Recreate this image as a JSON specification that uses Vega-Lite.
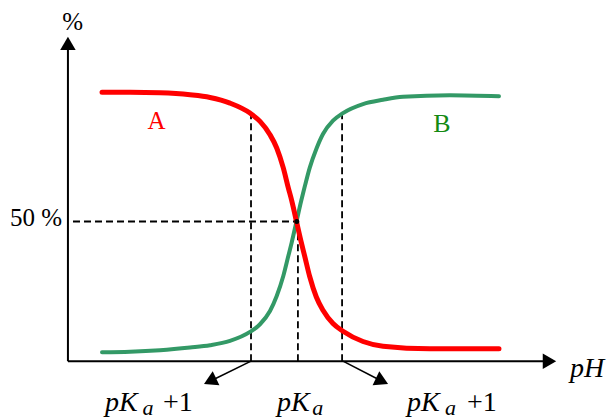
{
  "$schema": "https://vega.github.io/schema/vega-lite/v6.json",
  "width": 609,
  "height": 420,
  "padding": 0,
  "autosize": {"type": "fit", "contains": "padding"},
  "background": "white",
  "config": {"view": {"stroke": null}},
  "datasets": {
    "curves": [
      {"series": "A", "pH": 2.761, "pct": 96.25},
      {"series": "A", "pH": 3.37, "pct": 96.25},
      {"series": "A", "pH": 4.022, "pct": 96.07},
      {"series": "A", "pH": 4.674, "pct": 95.36},
      {"series": "A", "pH": 5.109, "pct": 94.39},
      {"series": "A", "pH": 5.543, "pct": 92.39},
      {"series": "A", "pH": 5.978, "pct": 88.82},
      {"series": "A", "pH": 6.196, "pct": 85.82},
      {"series": "A", "pH": 6.413, "pct": 81.07},
      {"series": "A", "pH": 6.559, "pct": 76.32},
      {"series": "A", "pH": 6.702, "pct": 69.18},
      {"series": "A", "pH": 6.811, "pct": 62.04},
      {"series": "A", "pH": 6.885, "pct": 57.5},
      {"series": "A", "pH": 6.989, "pct": 50.0},
      {"series": "A", "pH": 7.093, "pct": 42.5},
      {"series": "A", "pH": 7.167, "pct": 37.6},
      {"series": "A", "pH": 7.276, "pct": 30.3},
      {"series": "A", "pH": 7.42, "pct": 22.96},
      {"series": "A", "pH": 7.565, "pct": 18.21},
      {"series": "A", "pH": 7.783, "pct": 13.46},
      {"series": "A", "pH": 8.0, "pct": 10.71},
      {"series": "A", "pH": 8.435, "pct": 7.04},
      {"series": "A", "pH": 8.87, "pct": 5.36},
      {"series": "A", "pH": 9.891, "pct": 4.46},
      {"series": "A", "pH": 11.391, "pct": 4.46},
      {"series": "B", "pH": 2.761, "pct": 3.21},
      {"series": "B", "pH": 3.37, "pct": 3.39},
      {"series": "B", "pH": 4.022, "pct": 3.93},
      {"series": "B", "pH": 4.674, "pct": 4.89},
      {"series": "B", "pH": 5.109, "pct": 5.71},
      {"series": "B", "pH": 5.543, "pct": 7.25},
      {"series": "B", "pH": 5.978, "pct": 10.46},
      {"series": "B", "pH": 6.196, "pct": 13.21},
      {"series": "B", "pH": 6.413, "pct": 17.96},
      {"series": "B", "pH": 6.559, "pct": 23.32},
      {"series": "B", "pH": 6.702, "pct": 30.46},
      {"series": "B", "pH": 6.811, "pct": 37.61},
      {"series": "B", "pH": 6.885, "pct": 42.5},
      {"series": "B", "pH": 6.989, "pct": 50.0},
      {"series": "B", "pH": 7.093, "pct": 57.5},
      {"series": "B", "pH": 7.167, "pct": 62.4},
      {"series": "B", "pH": 7.276, "pct": 69.2},
      {"series": "B", "pH": 7.42, "pct": 75.96},
      {"series": "B", "pH": 7.565, "pct": 81.32},
      {"series": "B", "pH": 7.783, "pct": 86.07},
      {"series": "B", "pH": 8.0, "pct": 88.82},
      {"series": "B", "pH": 8.435, "pct": 92.04},
      {"series": "B", "pH": 8.87, "pct": 93.57},
      {"series": "B", "pH": 9.304, "pct": 94.64},
      {"series": "B", "pH": 10.326, "pct": 95.18},
      {"series": "B", "pH": 11.391, "pct": 94.82}
    ],
    "axes": [
      {"name": "y axis", "x1": 2.02, "y1": 0, "x2": 2.02, "y2": 112},
      {"name": "x axis", "x1": 2.02, "y1": 0, "x2": 12.35, "y2": 0}
    ],
    "pointers": [
      {"name": "left", "x1": 6.0, "y1": 0, "x2": 5.109, "y2": -7.18},
      {"name": "right", "x1": 8.0, "y1": 0, "x2": 8.848, "y2": -7.18}
    ],
    "guides": [
      {"name": "50%", "x1": 2.13, "y1": 50, "x2": 6.99, "y2": 50},
      {"name": "pKa-1", "x1": 6.0, "y1": 0, "x2": 6.0, "y2": 88.6},
      {"name": "pKa", "x1": 7.02, "y1": 0, "x2": 7.02, "y2": 50},
      {"name": "pKa+1", "x1": 7.98, "y1": 0, "x2": 7.98, "y2": 88.6}
    ],
    "heads": [
      {"name": "y axis", "pH": 2.02, "pct": 113.75, "dir": 0},
      {"name": "x axis", "pH": 12.489, "pct": 0, "dir": 90},
      {"name": "left", "pH": 5.109, "pct": -7.18, "dir": 244.4},
      {"name": "right", "pH": 8.848, "pct": -7.18, "dir": 115.6}
    ],
    "italicBig": [
      {"label": "pK", "pH": 2.826, "pct": -17.86},
      {"label": "pK", "pH": 6.565, "pct": -17.86},
      {"label": "pK", "pH": 9.391, "pct": -17.86},
      {"label": "pH", "pH": 12.935, "pct": -5.71}
    ],
    "subs": [
      {"label": "a", "pH": 3.64, "pct": -19.3},
      {"label": "a", "pH": 7.33, "pct": -19.3},
      {"label": "a", "pH": 10.22, "pct": -19.3}
    ],
    "plus": [
      {"label": "+1", "pH": 4.087, "pct": -17.86},
      {"label": "+1", "pH": 10.696, "pct": -17.86}
    ],
    "ylabels": [
      {"label": "%", "pH": 2.348, "pct": 118.57},
      {"label": "50 %", "pH": 1.891, "pct": 48.21}
    ],
    "names": [
      {"label": "A", "pH": 3.946, "pct": 83.21},
      {"label": "B", "pH": 10.152, "pct": 82.14}
    ],
    "cross": [
      {"pH": 6.995, "pct": 50.0}
    ]
  },
  "encoding": {
    "x": {"field": "pH", "type": "quantitative", "scale": {"domain": [0.543, 13.783], "nice": false, "zero": false}, "axis": null},
    "y": {"field": "pct", "type": "quantitative", "scale": {"domain": [-20.71, 129.29], "nice": false, "zero": false}, "axis": null}
  },
  "layer": [
    {
      "data": {"name": "guides"},
      "mark": {"type": "rule", "color": "black", "strokeWidth": 1.8, "strokeDash": [7, 4]},
      "encoding": {
        "x": {"field": "x1", "type": "quantitative"},
        "y": {"field": "y1", "type": "quantitative"},
        "x2": {"field": "x2"},
        "y2": {"field": "y2"}
      }
    },
    {
      "data": {"name": "axes"},
      "mark": {"type": "rule", "color": "black", "strokeWidth": 2},
      "encoding": {
        "x": {"field": "x1", "type": "quantitative"},
        "y": {"field": "y1", "type": "quantitative"},
        "x2": {"field": "x2"},
        "y2": {"field": "y2"}
      }
    },
    {
      "data": {"name": "pointers"},
      "mark": {"type": "rule", "color": "black", "strokeWidth": 1.6},
      "encoding": {
        "x": {"field": "x1", "type": "quantitative"},
        "y": {"field": "y1", "type": "quantitative"},
        "x2": {"field": "x2"},
        "y2": {"field": "y2"}
      }
    },
    {
      "data": {"name": "heads"},
      "mark": {"type": "point", "shape": "triangle-up", "filled": true, "color": "black", "size": 240, "opacity": 1},
      "encoding": {
        "angle": {"field": "dir", "type": "quantitative", "scale": null}
      }
    },
    {
      "data": {"name": "curves"},
      "transform": [{"filter": "datum.series === 'B'"}],
      "mark": {"type": "line", "interpolate": "monotone", "color": "#339966", "strokeWidth": 4, "strokeCap": "round"},
      "encoding": {"order": {"field": "pH", "type": "quantitative"}}
    },
    {
      "data": {"name": "curves"},
      "transform": [{"filter": "datum.series === 'A'"}],
      "mark": {"type": "line", "interpolate": "monotone", "color": "#ff0000", "strokeWidth": 5, "strokeCap": "round"},
      "encoding": {"order": {"field": "pH", "type": "quantitative"}}
    },
    {
      "data": {"name": "cross"},
      "mark": {"type": "point", "shape": "circle", "filled": true, "color": "black", "size": 25, "opacity": 1}
    },
    {
      "data": {"name": "italicBig"},
      "mark": {"type": "text", "font": "Liberation Serif", "fontStyle": "italic", "fontSize": 28, "align": "left", "baseline": "alphabetic", "color": "black"},
      "encoding": {"text": {"field": "label"}}
    },
    {
      "data": {"name": "subs"},
      "mark": {"type": "text", "font": "Liberation Serif", "fontStyle": "italic", "fontSize": 22, "align": "left", "baseline": "alphabetic", "color": "black"},
      "encoding": {"text": {"field": "label"}}
    },
    {
      "data": {"name": "plus"},
      "mark": {"type": "text", "font": "Liberation Serif", "fontSize": 28, "align": "left", "baseline": "alphabetic", "color": "black"},
      "encoding": {"text": {"field": "label"}}
    },
    {
      "data": {"name": "ylabels"},
      "mark": {"type": "text", "font": "Liberation Serif", "fontSize": 25, "align": "right", "baseline": "alphabetic", "color": "black"},
      "encoding": {"text": {"field": "label"}}
    },
    {
      "data": {"name": "names"},
      "transform": [{"filter": "datum.label === 'A'"}],
      "mark": {"type": "text", "font": "Liberation Serif", "fontSize": 25, "align": "center", "baseline": "alphabetic", "color": "#ff0000"},
      "encoding": {"text": {"field": "label"}}
    },
    {
      "data": {"name": "names"},
      "transform": [{"filter": "datum.label === 'B'"}],
      "mark": {"type": "text", "font": "Liberation Serif", "fontSize": 26, "align": "center", "baseline": "alphabetic", "color": "#138a13"},
      "encoding": {"text": {"field": "label"}}
    }
  ]
}
